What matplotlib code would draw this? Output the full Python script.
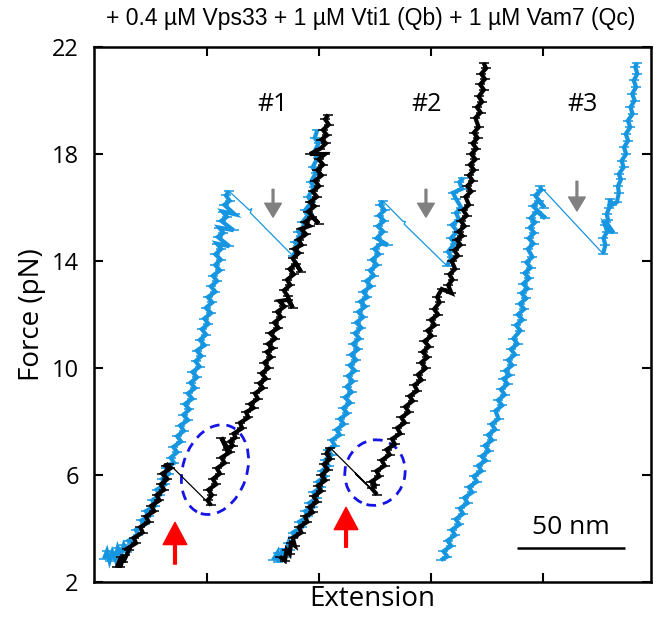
import matplotlib
matplotlib.use("Agg")
import matplotlib.pyplot as plt
from matplotlib.patches import Ellipse
import matplotlib.transforms as mtransforms

# ---------------- data (extension in nm, force in pN) ----------------
blue1_pull = [(4.6,2.86),(6.0,3.15),(7.2,2.78),(8.5,3.12),(9.8,2.86),(11.0,3.28),(12.4,3.00),(13.8,3.38),(15.3,3.12),
    (17.8,3.45),(16.1,3.55),(20.4,3.75),(19.4,3.95),(23.4,4.15),(21.9,4.30),(25.3,4.45),(24.0,4.65),(28.3,4.85),(27.0,5.05),
    (30.4,5.25),(29.0,5.45),(33.0,5.65),(31.5,5.85),(34.8,6.05),(33.3,6.25),(37.1,6.45),(35.5,6.65),(38.5,6.85),(36.7,7.05),
    (40.3,7.25),(38.5,7.45),(41.6,7.65),(39.9,7.85),(43.5,8.05),(41.4,8.25),(44.2,8.45),(42.1,8.65),(45.5,8.85),(43.5,9.05),
    (46.8,9.25),(44.7,9.45),(47.7,9.65),(45.6,9.85),(48.9,10.05),(47.0,10.25),(49.7,10.45),(47.6,10.65),(51.2,10.85),(49.0,11.05),
    (51.9,11.25),(49.9,11.45),(53.0,11.65),(51.1,11.85),(54.2,12.05),(51.8,12.25),(54.8,12.45),(52.7,12.65),(56.2,12.85),(54.1,13.05),
    (57.0,13.25),(55.0,13.45),(58.3,13.65),(56.1,13.85),(58.7,14.05),(56.2,14.25),(58.9,14.45),(56.9,14.65),(62.7,14.55),(57.3,14.90),
    (59.9,15.05),(57.9,15.25),(64.6,15.15),(58.9,15.50),(61.5,15.65),(59.5,15.85),(65.1,15.75),(60.3,16.10),(62.8,16.25),(61.1,16.45),(62.5,16.61)]
blue1_jump = [(62.5,16.61),(72.0,15.90),(73.0,15.96),(72.4,15.80),(92.1,14.19)]
blue1_after = [(92.1,14.19),(94.5,14.55),(93.0,14.70),(95.8,14.95),(94.6,15.10),(98.0,15.30),(96.5,15.45),(99.4,15.75),(97.8,15.90),
    (100.6,16.20),(99.2,16.40),(101.8,16.75),(100.4,16.95),(102.8,17.30),(101.2,17.50),(103.5,17.85),(101.8,18.05),(104.0,18.40),
    (102.2,18.60),(103.4,18.90)]

black1_pull = [(10.6,2.56),(12.5,2.95),(12.0,2.55),(14.2,3.00),(13.6,2.75),(16.2,3.20),(15.4,3.25),(19.4,3.45),(18.5,3.65),
    (22.5,3.85),(21.5,4.05),(25.3,4.25),(24.0,4.45),(27.9,4.65),(26.5,4.85),(30.3,5.05),(29.0,5.25),(32.5,5.45),(30.9,5.65),
    (34.0,5.85),(31.6,6.05),(35.4,6.25),(33.2,6.35),(34.7,6.42)]
black1_jump = [(34.7,6.42),(54.2,4.86)]
black1_after = [(54.2,4.86),(52.6,5.05),(54.6,5.25),(53.0,5.45),(56.5,5.65),(55.0,5.85),(58.3,6.05),(56.9,6.25),(60.5,6.45),
    (59.0,6.65),(62.9,6.85),(61.5,6.95),(58.9,7.40),(61.9,7.00),(64.3,7.10),(62.9,7.25),(65.5,7.40),(64.7,7.55),(68.6,7.75),
    (67.6,7.95),(71.5,8.15),(70.4,8.35),(73.9,8.51),(72.3,8.65),(75.9,8.85),(74.5,9.05),(78.2,9.25),(76.6,9.43),(79.6,9.6),
    (77.6,9.8),(80.8,10.0),(78.9,10.2),(82.0,10.4),(80.0,10.6),(82.8,10.74),(80.6,10.9),(84.0,11.1),(81.6,11.3),(85.4,11.5),
    (83.5,11.7),(86.6,11.9),(84.9,12.1),(88.2,12.3),(85.8,12.5),(89.8,12.55),(92.0,12.25),(89.6,12.7),(87.9,12.9),(90.9,13.1),
    (89.4,13.3),(92.5,13.5),(90.6,13.7),(93.6,13.9),(95.8,13.6),(92.0,14.1),(94.9,14.3),(92.6,14.45),(96.1,14.6),(94.7,14.8),
    (98.2,15.0),(95.8,15.2),(99.8,15.31),(97.6,15.45),(101.0,15.65),(104.0,15.40),(99.2,15.85),(102.2,16.05),(100.0,16.20),
    (103.2,16.4),(101.2,16.6),(104.2,16.8),(102.3,17.0),(105.4,17.2),(103.4,17.4),(106.1,17.6),(104.0,17.8),(107.0,18.0),
    (100.0,18.0),(104.8,18.2),(107.4,18.4),(105.2,18.54),(107.9,18.7),(106.0,18.9),(108.7,19.1),(107.0,19.3),(108.5,19.47)]

blue2_pull = [(82.9,2.82),(85.0,3.10),(85.4,2.75),(87.5,3.25),(88.0,2.95),(90.0,3.45),(90.6,3.20),(92.6,3.70),(92.1,3.85),
    (96.2,4.05),(95.0,4.25),(99.0,4.45),(97.8,4.65),(101.2,4.79),(99.6,4.95),(103.2,5.15),(101.6,5.35),(105.2,5.55),(103.6,5.75),
    (107.1,5.95),(105.4,6.15),(108.6,6.35),(106.9,6.55),(110.0,6.75),(108.2,6.94),(111.6,7.1),(110.0,7.3),(113.8,7.5),(112.3,7.7),
    (115.7,7.9),(113.9,8.1),(117.3,8.3),(115.4,8.5),(118.6,8.7),(116.2,8.9),(119.3,9.1),(117.0,9.3),(119.8,9.5),(117.6,9.7),
    (120.8,9.9),(118.4,10.1),(121.4,10.3),(119.1,10.5),(122.3,10.7),(119.9,10.9),(122.9,11.1),(120.8,11.3),(123.8,11.5),
    (121.5,11.7),(124.6,11.9),(122.4,12.1),(125.6,12.3),(123.3,12.48),(126.6,12.65),(124.7,12.85),(128.2,13.05),(126.1,13.25),
    (129.6,13.45),(127.8,13.65),(131.0,13.85),(128.8,14.05),(131.9,14.25),(129.9,14.45),(133.0,14.65),(136.0,14.60),(130.9,14.85),
    (133.9,15.1),(131.4,15.3),(134.3,15.5),(131.9,15.7),(134.6,15.9),(132.5,16.1),(133.8,16.24)]
blue2_jump = [(133.8,16.24),(143.0,15.49),(144.2,15.47),(143.6,15.38),(163.4,13.82)]
blue2_after = [(163.4,13.82),(165.6,14.15),(163.9,14.35),(167.0,14.65),(165.2,14.85),(168.2,15.10),(165.8,15.35),(169.0,15.55),
    (167.6,15.80),(170.0,16.00),(167.8,16.30),(166.2,16.55),(170.4,16.70),(169.2,16.95),(171.0,17.10)]

black2_pull = [(86.0,2.95),(88.4,2.80),(89.2,3.20),(90.6,3.05),(91.2,3.45),(93.0,3.35),(92.0,3.65),(96.0,3.85),(94.9,4.05),
    (98.8,4.25),(97.7,4.45),(101.2,4.60),(99.8,4.8),(103.3,5.0),(101.7,5.2),(105.2,5.4),(103.7,5.6),(107.1,5.8),(105.3,6.0),
    (108.3,6.2),(106.4,6.4),(109.4,6.6),(107.6,6.8),(109.3,7.02)]
black2_jump = [(109.3,7.02),(131.0,5.27),(121.0,6.08),(121.3,6.02),(130.2,5.33)]
black2_after = [(131.0,5.27),(128.6,5.50),(130.2,5.62),(128.4,5.75),(132.1,5.95),(130.8,6.15),(134.6,6.35),(133.2,6.55),
    (136.9,6.76),(135.5,6.95),(139.3,7.15),(138.0,7.35),(141.8,7.55),(140.4,7.76),(143.9,7.95),(142.3,8.15),(145.8,8.35),
    (144.1,8.55),(147.6,8.77),(146.1,8.95),(149.7,9.15),(148.3,9.36),(151.6,9.55),(150.0,9.75),(153.6,9.99),(151.5,10.2),
    (154.4,10.4),(152.2,10.6),(155.1,10.8),(153.0,11.0),(156.3,11.2),(154.5,11.4),(157.8,11.6),(156.0,11.8),(159.3,12.0),
    (157.5,12.2),(160.0,12.45),(158.9,12.65),(161.0,12.95),(165.5,12.80),(164.0,13.10),(166.0,13.30),(164.6,13.50),(167.2,13.70),
    (165.6,14.0),(168.5,14.2),(166.8,14.4),(169.7,14.6),(168.0,14.8),(170.6,14.94),(168.8,15.1),(171.6,15.3),(169.8,15.5),
    (172.6,15.7),(170.9,15.9),(173.6,16.1),(172.0,16.4),(174.7,16.6),(172.8,16.8),(175.3,17.0),(173.6,17.2),(176.0,17.4),
    (174.1,17.6),(176.6,17.8),(174.7,18.0),(177.1,18.2),(175.3,18.4),(177.6,18.6),(175.9,18.8),(178.1,19.0),(176.6,19.35),
    (179.0,19.55),(177.3,19.75),(179.7,19.95),(178.1,20.15),(180.5,20.4),(178.8,20.6),(181.0,20.8),(179.3,21.0),(181.5,21.2),
    (180.4,21.41)]

blue3_pull = [(160.6,2.82),(163.6,2.95),(161.8,3.15),(165.4,3.35),(163.7,3.55),(167.2,3.75),(165.7,3.95),(169.2,4.15),
    (167.5,4.35),(170.9,4.55),(169.4,4.75),(173.0,4.95),(171.5,5.15),(175.1,5.35),(173.6,5.55),(177.3,5.75),(175.8,5.95),
    (179.4,6.15),(177.9,6.35),(181.4,6.54),(179.5,6.7),(182.8,6.9),(181.0,7.1),(184.3,7.3),(182.5,7.5),(185.8,7.7),(184.1,7.9),
    (187.3,8.1),(185.9,8.4),(189.0,8.6),(187.1,8.8),(190.2,9.0),(188.4,9.2),(191.5,9.4),(189.6,9.6),(192.4,9.73),(190.5,9.9),
    (193.6,10.1),(191.8,10.3),(194.9,10.5),(193.0,10.7),(196.1,10.9),(194.2,11.1),(197.4,11.4),(195.4,11.6),(198.4,11.8),
    (196.3,12.0),(199.2,12.2),(197.2,12.4),(200.1,12.6),(198.0,12.8),(200.8,12.97),(198.7,13.15),(201.5,13.35),(199.4,13.55),
    (202.2,13.75),(200.2,13.95),(203.0,14.15),(200.9,14.45),(203.5,14.65),(201.3,14.85),(203.9,15.05),(201.8,15.25),(204.3,15.45),
    (202.2,15.6),(205.0,15.85),(209.0,15.60),(203.3,16.05),(206.0,16.25),(208.5,16.00),(204.3,16.45),(207.1,16.65),(206.5,16.80)]
blue3_jump = [(206.5,16.80),(235.7,14.27)]
blue3_after = [(235.7,14.27),(236.8,14.60),(235.9,14.85),(237.6,15.10),(236.6,15.35),(240.5,15.05),(237.2,15.45),(238.0,15.55),
    (237.4,15.75),(238.6,16.00),(238.9,16.31),(240.0,16.10),(242.1,16.20),(243.0,16.55),(242.6,16.80),(244.0,17.05),(243.0,17.25),
    (245.2,17.5),(244.3,17.75),(246.4,18.0),(245.4,18.25),(247.3,18.5),(246.2,18.75),(248.3,19.0),(247.2,19.25),(249.4,19.5),
    (248.4,19.75),(250.3,20.0),(249.2,20.25),(251.0,20.5),(249.9,20.75),(251.6,21.0),(250.6,21.25),(251.4,21.41)]

trace_labels = ["#1", "#2", "#3"]
label_pos = [(82.9, 19.84), (154.2, 19.84), (226.4, 19.84)]
grey_arrows = [(82.9, 16.68, 15.64), (153.7, 16.68, 15.64), (223.6, 16.98, 15.87)]
red_arrows = [(37.5, 2.67, 4.23), (116.7, 3.30, 4.79)]
ellipses = [(56.0, 6.20, 0.64, 0.92, -18), (130.1, 6.09, 0.60, 0.66, -15)]  # centre, size (in), tilt
scalebar = (195.8, 245.9, 3.26)
yticks = [2, 6, 10, 14, 18, 22]
xticks = [52.2, 104.0, 155.9, 207.7]
title = "+ 0.4 µM Vps33 + 1 µM Vti1 (Qb) + 1 µM Vam7 (Qc)"

BLUE = "#1696e0"
font = "Open Sans"

fig = plt.figure(figsize=(6.54, 6.25), dpi=100)
ax = fig.add_axes([94/654, (625-582)/625, (651-94)/654, (582-47)/625])

def draw(pts, color, lw, fuzzy):
    xs = [p[0] for p in pts]
    ys = [p[1] for p in pts]
    if fuzzy:
        ax.plot(xs, ys, color=color, lw=lw, solid_joinstyle="miter", solid_capstyle="butt")
        ax.plot(xs, ys, color=color, lw=0, marker="_", ms=6.5, mew=1.1)
    else:
        ax.plot(xs, ys, color=color, lw=lw)

TH = 3.0
for pts, c, w, f in [(blue1_pull, BLUE, TH, 1), (blue1_jump, BLUE, 0.9, 0), (blue1_after, BLUE, TH, 1),
                     (blue2_pull, BLUE, TH, 1), (blue2_jump, BLUE, 0.9, 0), (blue2_after, BLUE, TH, 1),
                     (blue3_pull, BLUE, TH, 1), (blue3_jump, BLUE, 0.9, 0), (blue3_after, BLUE, TH, 1),
                     (black1_pull, "black", TH, 1), (black1_jump, "black", 0.9, 0), (black1_after, "black", TH, 1),
                     (black2_pull, "black", TH, 1), (black2_jump, "black", 0.9, 0), (black2_after, "black", TH, 1)]:
    draw(pts, c, w, f)

for lab, (x, y) in zip(trace_labels, label_pos):
    ax.text(x, y, lab, fontsize=18, family=font, ha="center", va="center")

for x, y0, y1 in grey_arrows:
    ax.annotate("", xy=(x, y1), xytext=(x, y0),
                arrowprops=dict(width=1.3, headwidth=12, headlength=10, color="#808080", shrink=0))
for x, y0, y1 in red_arrows:
    ax.annotate("", xy=(x, y1), xytext=(x, y0),
                arrowprops=dict(width=2.0, headwidth=17, headlength=16, color="#ff0000", shrink=0))

for cx, cy, w, h, ang in ellipses:
    tr = fig.dpi_scale_trans + mtransforms.ScaledTranslation(cx, cy, ax.transData)
    e = Ellipse((0, 0), w, h, angle=ang, transform=tr, fill=False, edgecolor="#1414e6",
                lw=2.0, linestyle=(0, (3.5, 2.5)))
    ax.add_patch(e)

x0, x1, ysb = scalebar
ax.plot([x0, x1], [ysb, ysb], color="black", lw=1.8, solid_capstyle="butt")
ax.text((x0+x1)/2, ysb + 0.3, "50 nm", fontsize=19, family=font, ha="center", va="bottom")

ax.set_xlim(0, 257.9)
ax.set_ylim(2, 22)
ax.set_yticks(yticks)
ax.set_yticklabels([str(v) for v in yticks], family=font, fontsize=17)
ax.set_xticks(xticks)
ax.tick_params(direction="in", length=6.5, width=1.5, top=True, right=True,
               labelbottom=False, pad=11)
for s in ax.spines.values():
    s.set_linewidth(1.8)
ax.set_ylabel("Force (pN)", family=font, fontsize=20, labelpad=4)
ax.set_xlabel("Extension", family=font, fontsize=20, labelpad=2)

fig.text(371/654, 1 - 18/625, title, family="Liberation Sans", fontsize=16.5,
         ha="center", va="center")

fig.savefig("out.png", dpi=100)
